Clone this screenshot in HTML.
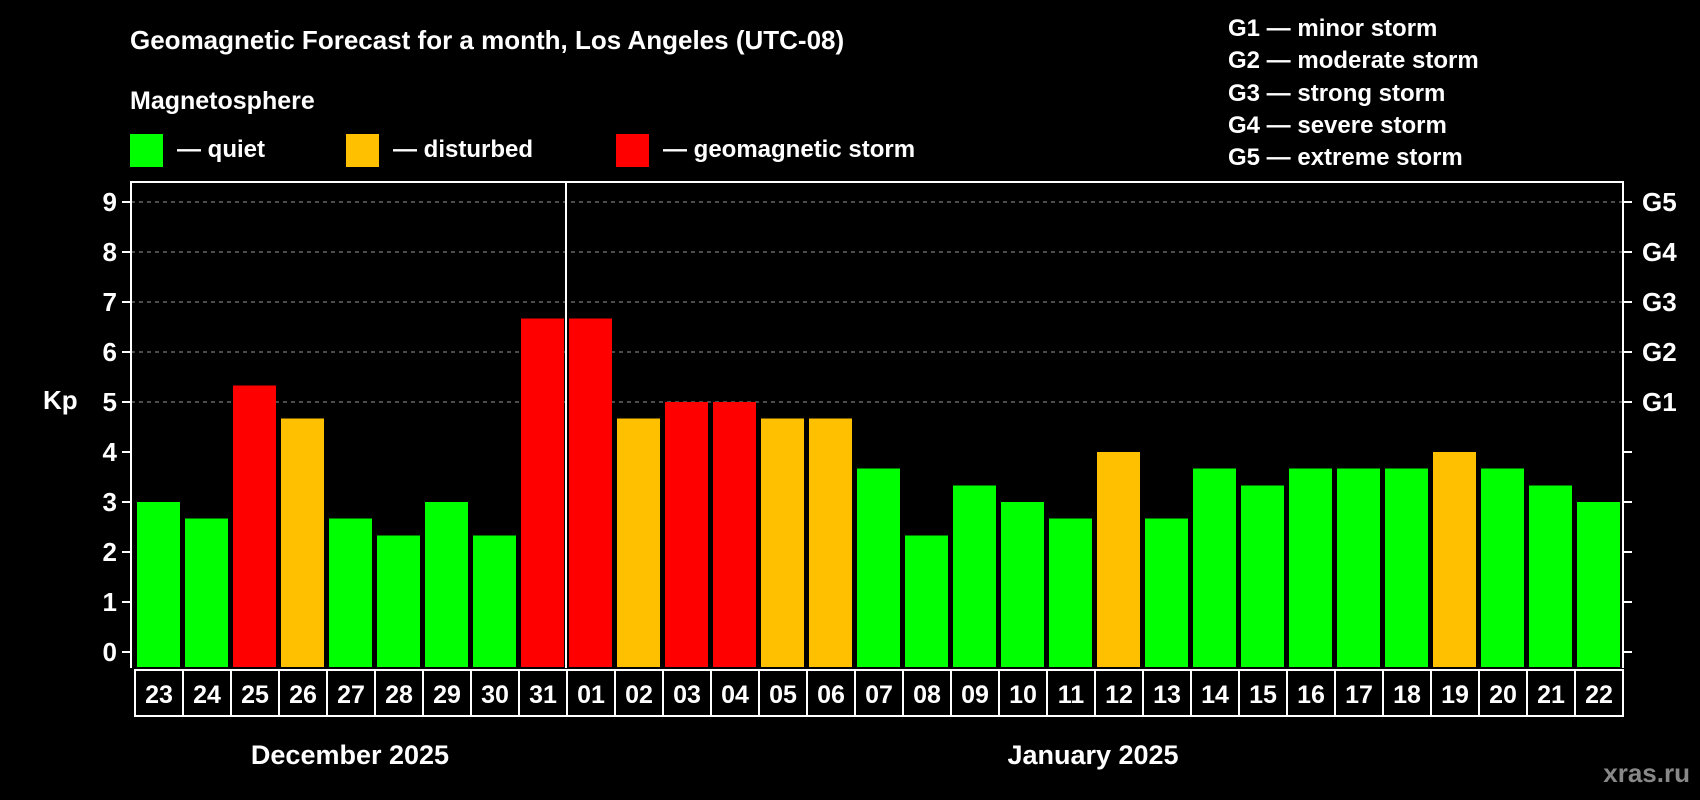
<!DOCTYPE html>
<html><head><meta charset="utf-8"><style>
body{margin:0;background:#000;width:1700px;height:800px;overflow:hidden}
svg{display:block;font-family:"Liberation Sans",Arial,sans-serif;font-weight:bold}
</style></head><body>
<svg id="c" width="1700" height="800" xmlns="http://www.w3.org/2000/svg">
<rect width="1700" height="800" fill="#000"/>
<text x="130" y="49" fill="#fff" font-size="26">Geomagnetic Forecast for a month, Los Angeles (UTC-08)</text>
<text x="130" y="109" fill="#fff" font-size="25">Magnetosphere</text>
<rect x="130" y="134" width="33" height="33" fill="#00ff00"/>
<text x="177" y="157" fill="#fff" font-size="24">— quiet</text>
<rect x="346" y="134" width="33" height="33" fill="#ffc000"/>
<text x="393" y="157" fill="#fff" font-size="24">— disturbed</text>
<rect x="616" y="134" width="33" height="33" fill="#ff0000"/>
<text x="663" y="157" fill="#fff" font-size="24">— geomagnetic storm</text>
<g fill="#fff" font-size="24">
<text x="1228" y="36">G1 — minor storm</text>
<text x="1228" y="68">G2 — moderate storm</text>
<text x="1228" y="101">G3 — strong storm</text>
<text x="1228" y="133">G4 — severe storm</text>
<text x="1228" y="165">G5 — extreme storm</text>
</g>
<text x="43" y="409" fill="#fff" font-size="26">Kp</text>
<text x="350" y="764" fill="#fff" font-size="27" text-anchor="middle">December 2025</text>
<text x="1093" y="764" fill="#fff" font-size="27" text-anchor="middle">January 2025</text>
<text x="1690" y="782" fill="#888" font-size="26" text-anchor="end">xras.ru</text>
<g id="plot"></g>
</svg>
<script>
const days=["23","24","25","26","27","28","29","30","31","01","02","03","04","05","06","07","08","09","10","11","12","13","14","15","16","17","18","19","20","21","22"];
const kp=[3,2.67,5.33,4.67,2.67,2.33,3,2.33,6.67,6.67,4.67,5,5,4.67,4.67,3.67,2.33,3.33,3,2.67,4,2.67,3.67,3.33,3.67,3.67,3.67,4,3.67,3.33,3];
const yTicks=[0,1,2,3,4,5,6,7,8,9];
const gLabels=["G1","G2","G3","G4","G5"];
const gLevels=[5,6,7,8,9];
const NS="http://www.w3.org/2000/svg";
const L=131,R=1623,T=182,B=668,X0=135,CW=(1623-135)/31;
const y=v=>652-v*50;
const x=i=>X0+i*CW;
const g=document.getElementById('plot');
function mk(t,a){const e=document.createElementNS(NS,t);for(const k in a)e.setAttribute(k,a[k]);g.appendChild(e);return e;}
// grid
yTicks.forEach(v=>{
 if(v>=5){const l=mk('line',{x1:L,x2:R,y1:y(v),y2:y(v),stroke:'#999','stroke-dasharray':'4,4','stroke-width':1});
 
 }
 const t=mk('line',{x1:L-9,x2:L,y1:y(v),y2:y(v),stroke:'#fff','stroke-width':2});
 
 
 const t2=mk('line',{x1:R,x2:R+9,y1:y(v),y2:y(v),stroke:'#fff','stroke-width':2});
 
 
 const lb=mk('text',{x:L-14,y:y(v)+9,fill:'#fff','font-size':26,'text-anchor':'end'});
 lb.textContent=v;
 
 
});
gLabels.forEach((s,i)=>{
 const lb=mk('text',{x:R+19,y:y(gLevels[i])+9,fill:'#fff','font-size':26});
 lb.textContent=s;
 
 
});
// bars
kp.forEach((v,i)=>{
 const c=v>=5?'#ff0000':(v>=4?'#ffc000':'#00ff00');
 const b=mk('rect',{x:x(i)+2,y:y(v),width:CW-5,height:y(0)+15-y(v),fill:c});
 
 
});
// frame
const f=mk('path',{d:`M${L},${B} V${T} H${R} V${B}`,fill:'none',stroke:'#fff','stroke-width':2});


const sep=mk('line',{x1:x(9)-1,x2:x(9)-1,y1:T,y2:B,stroke:'#fff','stroke-width':2});


// date row
days.forEach((d,i)=>{
 const r=mk('rect',{x:x(i),y:B+2,width:CW,height:46,fill:'#000',stroke:'#fff','stroke-width':2});
 
 
 const t=mk('text',{x:x(i)+CW/2,y:B+35,fill:'#fff','font-size':25,'text-anchor':'middle'});
 t.textContent=d;
 
 
});
</script>
</body></html>
